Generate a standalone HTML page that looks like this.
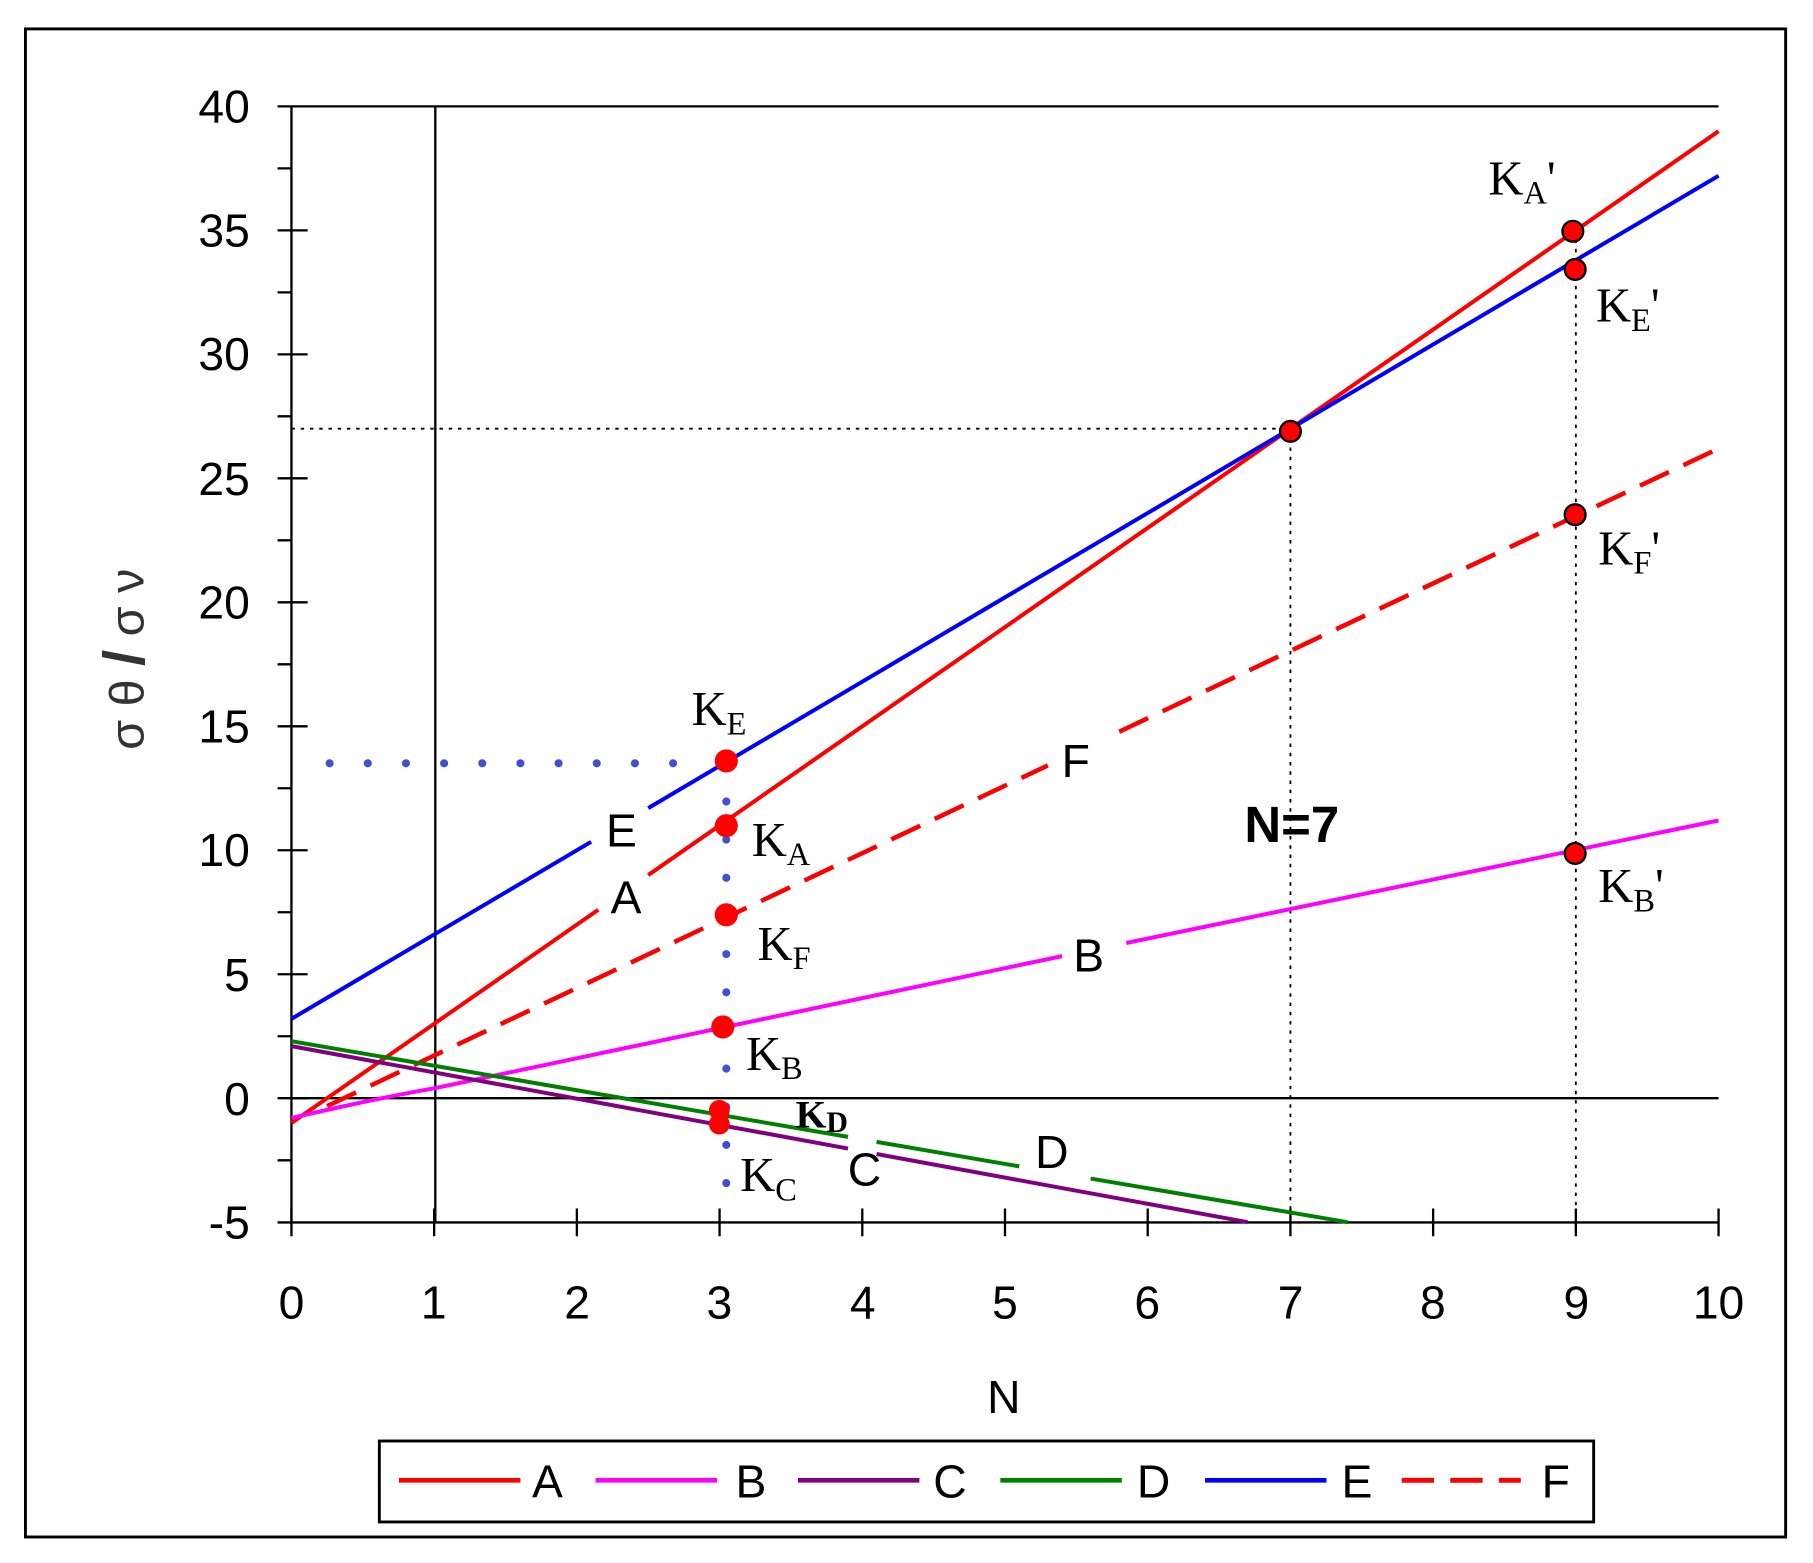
<!DOCTYPE html>
<html><head><meta charset="utf-8"><style>html,body{margin:0;padding:0;background:#fff}svg{display:block}</style></head>
<body>
<svg width="1813" height="1563" viewBox="0 0 1813 1563" xmlns="http://www.w3.org/2000/svg">
<rect width="1813" height="1563" fill="#fff"/>
<g transform="scale(1.1565)">
<rect x="22" y="25" width="1522" height="1304" fill="none" stroke="#000" stroke-width="2.5"/>
<g font-family="Liberation Sans, sans-serif" font-size="40" fill="#000">
<g text-anchor="end">
<text x="216" y="106">40</text><text x="216" y="213">35</text><text x="216" y="320">30</text><text x="216" y="428">25</text><text x="216" y="535">20</text><text x="216" y="642">15</text><text x="216" y="749">10</text><text x="216" y="857">5</text><text x="216" y="964">0</text><text x="216" y="1071">-5</text>
</g>
<g text-anchor="middle">
<text x="252" y="1140">0</text><text x="375" y="1140">1</text><text x="499" y="1140">2</text><text x="622" y="1140">3</text><text x="746" y="1140">4</text><text x="869" y="1140">5</text><text x="992" y="1140">6</text><text x="1116" y="1140">7</text><text x="1239" y="1140">8</text><text x="1363" y="1140">9</text><text x="1486" y="1140">10</text>
<text x="868" y="1222">N</text>
</g>
<text transform="translate(124,570) rotate(-90)" text-anchor="middle" fill="#333" font-size="42">σ θ <tspan font-weight="bold" font-size="50">/</tspan> σ ν</text>
</g>
<g stroke="#000" stroke-width="2">
<line x1="252" y1="92" x2="252" y2="1057"/>
<line x1="240" y1="92" x2="1486" y2="92"/>
<line x1="252" y1="1057" x2="1486" y2="1057"/>
<line x1="252" y1="949.6" x2="1486" y2="949.6"/>
<line x1="376.4" y1="92" x2="376.4" y2="1057"/>
<path d="M240 199.2H266M240 306.4H266M240 413.6H266M240 520.8H266M240 628H266M240 735.2H266M240 842.4H266M240 949.6H266M240 1057H252M240 145.6H252M240 252.8H252M240 360H252M240 467.2H252M240 574.4H252M240 681.6H252M240 788.8H252M240 896H252M240 1003.3H252"/>
<path d="M252 1045V1069M375.4 1045V1069M498.8 1045V1069M622.2 1045V1069M745.6 1045V1069M869 1045V1069M992.4 1045V1069M1115.8 1045V1069M1239.2 1045V1069M1362.6 1045V1069M1486 1045V1069"/>
</g>
<g stroke="#000" stroke-width="1.6" stroke-dasharray="3,5" fill="none">
<path d="M252 370.7H1115.8V1057M1362.6 199.2V1057"/>
</g>
<g stroke="#4050d0" stroke-width="7" stroke-dasharray="0,33" stroke-linecap="round" fill="none">
<path d="M285 660H600M628 660V1030"/>
</g>
<g transform="translate(252,949.6) scale(123.4,-21.44)" fill="none" stroke-width="4">
<g stroke="#ff0000">
<path vector-effect="non-scaling-stroke" d="M0 -1L2.15 7.6M2.5 9L10 39"/>
</g>
<g stroke="#0000ff">
<path vector-effect="non-scaling-stroke" d="M0 3.2L2.1 10.34M2.5 11.7L10 37.2"/>
</g>
<g stroke="#ff0000" stroke-dasharray="32,16" stroke-width="4.5">
<path vector-effect="non-scaling-stroke" d="M0.25 -0.32L5.3 13.42M5.8 14.78L10 26.2"/>
</g>
<g stroke="#ff00ff">
<path vector-effect="non-scaling-stroke" d="M0 -0.8Q0.6 0 1 0.4L5.4 5.73M5.85 6.26L10 11.2"/>
</g>
<g stroke="#800080">
<path vector-effect="non-scaling-stroke" d="M0 2.1L3.9 -2.03M4.1 -2.25L6.7 -5"/>
</g>
<g stroke="#008000">
<path vector-effect="non-scaling-stroke" d="M0 2.3L3.9 -1.56M4.1 -1.76L5.1 -2.75M5.6 -3.24L7.4 -5"/>
</g>
</g>
<g fill="#ff0000">
<circle cx="628" cy="658" r="10"/><circle cx="628" cy="714" r="10"/><circle cx="628" cy="791" r="10"/><circle cx="625" cy="888" r="10"/><circle cx="622" cy="960" r="9"/><circle cx="622" cy="972" r="9"/>
</g>
<g fill="#ff0000" stroke="#000" stroke-width="2">
<circle cx="1115.8" cy="373" r="9"/><circle cx="1360" cy="200" r="9"/><circle cx="1362" cy="233" r="9"/><circle cx="1362" cy="445" r="9"/><circle cx="1362" cy="738" r="9"/>
</g>
<g font-family="Liberation Sans, sans-serif" font-size="40">
<text x="524" y="732">E</text><text x="528" y="790">A</text><text x="918" y="672">F</text><text x="928" y="840">B</text><text x="733" y="1025">C</text><text x="895" y="1010">D</text>
<text x="1076" y="728" font-weight="bold" font-size="44">N=7</text>
</g>
<g font-family="Liberation Serif, serif" font-size="42">
<text x="598" y="627">K<tspan font-size="28" dy="8">E</tspan></text>
<text x="650" y="740">K<tspan font-size="28" dy="8">A</tspan></text>
<text x="655" y="830">K<tspan font-size="28" dy="8">F</tspan></text>
<text x="645" y="925">K<tspan font-size="28" dy="8">B</tspan></text>
<text x="688" y="975" font-weight="bold" font-size="34">K<tspan font-size="26" dy="4">D</tspan></text>
<text x="640" y="1030">K<tspan font-size="28" dy="8">C</tspan></text>
<text x="1287" y="168">K<tspan font-size="28" dy="8">A</tspan><tspan dy="-8">'</tspan></text>
<text x="1380" y="278">K<tspan font-size="28" dy="8">E</tspan><tspan dy="-8">'</tspan></text>
<text x="1382" y="488">K<tspan font-size="28" dy="8">F</tspan><tspan dy="-8">'</tspan></text>
<text x="1382" y="780">K<tspan font-size="28" dy="8">B</tspan><tspan dy="-8">'</tspan></text>
</g>
<rect x="328" y="1246" width="1050" height="70" fill="#fff" stroke="#000" stroke-width="2.5"/>
<g stroke-width="4">
<line x1="345" y1="1280" x2="450" y2="1280" stroke="#ff0000"/>
<line x1="515" y1="1280" x2="620" y2="1280" stroke="#ff00ff"/>
<line x1="690" y1="1280" x2="795" y2="1280" stroke="#800080"/>
<line x1="865" y1="1280" x2="970" y2="1280" stroke="#008000"/>
<line x1="1042" y1="1280" x2="1147" y2="1280" stroke="#0000ff"/>
<line x1="1212" y1="1280" x2="1315" y2="1280" stroke="#ff0000" stroke-dasharray="28,14" stroke-width="4.2"/>
</g>
<g font-family="Liberation Sans, sans-serif" font-size="40">
<text x="460" y="1295">A</text><text x="636" y="1295">B</text><text x="807" y="1295">C</text><text x="983" y="1295">D</text><text x="1160" y="1295">E</text><text x="1333" y="1295">F</text>
</g>
</g>
</svg>
</body></html>
